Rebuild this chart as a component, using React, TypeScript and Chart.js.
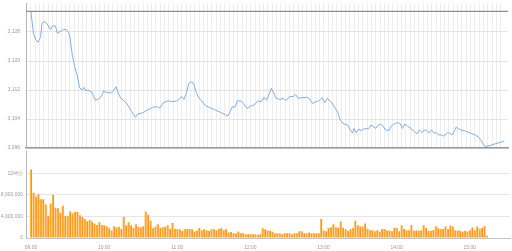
import React, { useEffect, useRef } from "react";
import { Chart, registerables } from "chart.js";

Chart.register(...registerables);

// ---- data ----
const hourLabels = ["09:00", "10:00", "11:00", "12:00", "13:00", "14:00", "15:00"];

const referencePrice = 3133.7;

const lineTimes = [
  "09:00","09:02","09:04","09:06","09:08","09:09","09:11","09:13","09:16","09:18",
  "09:20","09:22","09:24","09:27","09:29","09:31","09:32","09:34","09:36","09:38",
  "09:40","09:42","09:44","09:45","09:47","09:50","09:53","09:55","09:57","09:58",
  "10:00","10:02","10:04","10:06","10:08","10:10","10:12","10:14","10:16","10:19",
  "10:23","10:26","10:28","10:32","10:36","10:40","10:44","10:46","10:49","10:53",
  "10:57","11:00","11:02","11:04","11:06","11:08","11:10","11:12","11:14","11:16",
  "11:18","11:20","11:24","11:27","11:31","11:35","11:39","11:42","11:44","11:46",
  "11:48","11:50","11:53","11:55","11:58","12:01","12:04","12:07","12:10","12:12",
  "12:14","12:16","12:18","12:20","12:22","12:25","12:28","12:30","12:33","12:36",
  "12:38","12:40","12:44","12:47","12:49","12:52","12:55","12:57","13:00","13:02",
  "13:04","13:07","13:10","13:13","13:15","13:18","13:21","13:23","13:25","13:26",
  "13:28","13:30","13:32","13:34","13:36","13:38","13:40","13:42","13:44","13:46",
  "13:48","13:50","13:52","13:55","13:57","13:59","14:02","14:04","14:06","14:08",
  "14:10","14:13","14:16","14:18","14:20","14:22","14:24","14:26","14:28","14:30",
  "14:32","14:34","14:36","14:38","14:40","14:43","14:45","14:47","14:49","14:50",
  "14:52","14:54","14:57","14:59","15:02","15:06","15:09","15:11","15:13","15:15",
  "15:30"
];

const linePrices = [
  3133.6,3127.6,3125.8,3125.2,3126.7,3130.4,3130.8,3130.4,3128.7,3129.7,
  3129.7,3127.6,3128.1,3128.7,3128.7,3127.8,3126.7,3121.7,3118.4,3116.1,
  3112.7,3112.0,3112.7,3111.8,3112.0,3111.5,3109.2,3109.4,3110.0,3110.2,
  3111.8,3111.3,3111.4,3111.1,3111.8,3112.9,3111.1,3109.7,3109.2,3108.3,
  3106.0,3104.5,3105.4,3105.7,3106.5,3107.2,3107.4,3107.0,3108.5,3109.0,
  3108.8,3109.0,3109.4,3110.2,3109.4,3111.1,3113.8,3114.3,3113.8,3111.5,
  3110.0,3109.2,3107.6,3107.2,3106.6,3106.0,3105.4,3104.8,3106.0,3107.4,
  3107.2,3109.0,3109.0,3108.3,3106.9,3107.6,3107.9,3109.0,3108.8,3110.0,
  3109.2,3110.6,3112.5,3111.1,3109.7,3109.4,3109.7,3109.0,3110.2,3110.2,
  3110.8,3109.7,3109.9,3110.0,3109.7,3108.3,3108.8,3109.0,3109.9,3108.5,
  3109.7,3108.8,3107.4,3105.6,3103.5,3102.6,3102.3,3101.0,3100.1,3101.4,
  3100.2,3101.2,3100.8,3101.2,3101.4,3101.2,3102.3,3101.9,3101.4,3102.3,
  3102.6,3102.1,3101.0,3100.8,3102.1,3102.6,3103.0,3102.8,3101.4,3102.6,
  3102.1,3101.4,3100.5,3099.9,3101.0,3100.2,3101.0,3100.8,3100.2,3101.0,
  3100.1,3100.2,3099.6,3099.6,3099.3,3100.2,3100.1,3099.6,3100.8,3101.7,
  3101.4,3101.0,3100.8,3100.5,3100.1,3099.6,3098.9,3098.0,3096.8,3096.4,
  3097.9
];

// 2-minute volume bars from 09:00, values in millions of shares
const volumeStart = "09:00";
const volumeStepMinutes = 2;
const volumeMillions = [
  12.7,8.4,7.7,8.1,7.2,7.2,6.2,4.1,6.4,8.0,
  5.6,5.5,4.7,6.0,4.1,4.1,4.9,4.6,4.85,4.8,
  4.2,3.9,3.5,3.1,3.35,3.0,2.7,2.4,2.9,2.4,
  2.35,2.2,1.8,1.4,2.2,1.9,2.1,1.7,3.9,2.35,
  2.9,2.35,1.85,2.55,2.1,2.0,2.2,4.9,4.3,3.2,
  1.8,2.15,2.55,1.85,2.0,2.1,2.35,1.7,2.8,1.7,
  1.6,1.6,1.3,1.65,1.6,1.65,1.6,1.2,1.4,1.85,
  1.45,1.6,1.45,1.35,1.6,1.6,1.45,1.65,1.85,1.5,
  1.6,1.0,1.1,0.9,0.9,1.2,0.9,0.9,0.7,0.7,
  0.7,0.7,0.7,0.6,0.7,1.8,1.6,1.4,1.35,1.15,
  0.9,0.9,0.9,0.7,0.9,0.9,0.9,0.7,0.9,0.9,
  1.25,1.25,0.9,0.9,1.0,0.9,0.9,0.9,0.9,3.5,
  1.4,1.25,1.85,2.0,2.55,2.0,1.9,3.05,1.9,1.6,
  1.3,1.6,1.85,3.2,2.35,2.15,2.15,2.7,1.7,1.45,
  1.45,1.25,1.45,1.2,1.65,1.65,1.4,1.4,1.25,1.9,
  1.85,1.25,2.35,1.65,1.45,1.45,2.35,1.35,1.4,1.4,
  1.4,2.35,1.9,1.35,1.35,1.5,2.2,1.8,1.65,1.65,
  2.15,1.65,2.3,2.15,1.45,1.4,1.35,1.15,1.35,1.2,
  1.45,1.95,1.45,2.15,1.7,1.9,2.2,0.4
];
const closingTime = "15:30";
const closingVolumeMillions = 0.1;

const volumeTickValues = [0, 4, 8, 12];
const volumeTickLabels = ["0", "4,000,000", "8,000,000", "12백만"];

// ---- helpers ----
const toMin = (t: string) => {
  const [h, m] = t.split(":").map(Number);
  return (h - 9) * 60 + m;
};
const fmtTime = (m: number) => {
  const h = 9 + Math.floor(m / 60);
  const mm = m % 60;
  return String(h).padStart(2, "0") + ":" + String(mm).padStart(2, "0");
};

const X_MIN = -4.1;
const X_MAX = 393;
const FONT = { family: "'Liberation Sans', Arial, sans-serif", size: 5 };
const TICK_COLOR = "#9a9a9a";
const BAR_FALLBACK = "#ffa733";

const fixY = (s: any) => {
  s.width = 26;
  s.paddingTop = 0;
  s.paddingBottom = 0;
};

export default function App() {
  const topRef = useRef<HTMLCanvasElement>(null);
  const botRef = useRef<HTMLCanvasElement>(null);

  useEffect(() => {
    const lineData = lineTimes.map((t, i) => ({ x: toMin(t), y: linePrices[i] }));
    const startMin = toMin(volumeStart);
    const barData = volumeMillions.map((v, i) => ({ x: startMin + i * volumeStepMinutes, y: v }));
    barData.push({ x: toMin(closingTime), y: closingVolumeMillions });

    const top = new Chart(topRef.current!, {
      type: "line",
      data: {
        datasets: [
          {
            data: [
              { x: X_MIN, y: referencePrice },
              { x: X_MAX, y: referencePrice },
            ],
            borderColor: "#8e8e8e",
            borderWidth: 1.3,
            pointRadius: 0,
          },
          {
            data: lineData,
            borderColor: "#7fb0e4",
            borderWidth: 1,
            pointRadius: 0,
            tension: 0,
          },
        ],
      },
      options: {
        responsive: false,
        animation: false,
        layout: { padding: { top: 3, right: 4, bottom: 2, left: 0 } },
        plugins: { legend: { display: false }, tooltip: { enabled: false } },
        scales: {
          x: {
            type: "linear",
            min: X_MIN,
            max: X_MAX,
            offset: false,
            afterBuildTicks: (s: any) => {
              const ticks = [];
              for (let m = 0; m <= 390; m += 3.55) ticks.push({ value: m });
              s.ticks = ticks;
            },
            afterFit: (s: any) => {
              s.height = 0;
              s.paddingLeft = 0;
              s.paddingRight = 0;
            },
            ticks: { display: false },
            grid: { color: "#ededed", lineWidth: 1, drawTicks: false },
            border: { color: "#9a9a9a", width: 1.5 },
          },
          y: {
            min: 3096,
            max: 3136,
            afterFit: fixY,
            ticks: {
              stepSize: 8,
              color: TICK_COLOR,
              font: FONT,
              padding: 6,
              callback: (v: any) => (v >= 3136 ? "" : Number(v).toLocaleString("en-US")),
            },
            grid: {
              color: (c: any) => (c.tick && c.tick.value >= 3136 ? "rgba(0,0,0,0)" : "#e4e4e4"),
              drawTicks: false,
            },
            border: { color: "#b5b5b5", width: 1 },
          },
        },
      },
    });

    const bot = new Chart(botRef.current!, {
      type: "bar",
      data: {
        datasets: [
          {
            data: barData,
            backgroundColor: (c: any) => {
              const chart = c.chart;
              const xs = chart.scales && chart.scales.x;
              if (c.type !== "data" || !xs || !c.parsed) return BAR_FALLBACK;
              const px = xs.getPixelForValue(c.parsed.x);
              if (!isFinite(px)) return BAR_FALLBACK;
              const g = chart.ctx.createLinearGradient(px - 1, 0, px + 1, 0);
              g.addColorStop(0, "#ffc54e");
              g.addColorStop(1, "#ff8210");
              return g;
            },
            borderWidth: 0,
            barPercentage: 0.85,
            categoryPercentage: 1,
          },
        ],
      },
      options: {
        responsive: false,
        animation: false,
        layout: { padding: { top: 1.7, right: 2, bottom: 0, left: 0 } },
        plugins: { legend: { display: false }, tooltip: { enabled: false } },
        scales: {
          x: {
            type: "linear",
            min: X_MIN,
            max: X_MAX,
            offset: false,
            afterBuildTicks: (s: any) => {
              s.ticks = hourLabels.map((h) => ({ value: toMin(h) }));
            },
            afterFit: (s: any) => {
              s.height = 13;
              s.paddingLeft = 0;
              s.paddingRight = 0;
            },
            ticks: {
              color: TICK_COLOR,
              font: FONT,
              padding: 6.3,
              maxRotation: 0,
              autoSkip: false,
              callback: (v: any) => fmtTime(Number(v)),
            },
            grid: { display: false, drawTicks: false, offset: false },
            border: { color: "#c4c4c4", width: 1 },
          },
          y: {
            min: 0,
            max: 16,
            afterFit: fixY,
            afterBuildTicks: (s: any) => {
              s.ticks = volumeTickValues.concat([16]).map((v) => ({ value: v }));
            },
            ticks: {
              color: TICK_COLOR,
              font: FONT,
              padding: 3,
              callback: (v: any) => {
                const i = volumeTickValues.indexOf(Number(v));
                return i >= 0 ? volumeTickLabels[i] : "";
              },
            },
            grid: {
              color: (c: any) => (c.tick && (c.tick.value >= 16 || c.tick.value === 0) ? "rgba(0,0,0,0)" : "#e6e6e6"),
              drawTicks: false,
            },
            border: { color: "#b5b5b5", width: 1 },
          },
        },
      },
    });

    return () => {
      top.destroy();
      bot.destroy();
    };
  }, []);

  return (
    <div style={{ position: "fixed", left: 0, top: 0, width: 512, height: 251, background: "#fff" }}>
      <canvas ref={topRef} width={512} height={150} style={{ position: "absolute", left: 0, top: 0 }} />
      <canvas ref={botRef} width={512} height={101} style={{ position: "absolute", left: 0, top: 150 }} />
    </div>
  );
}
